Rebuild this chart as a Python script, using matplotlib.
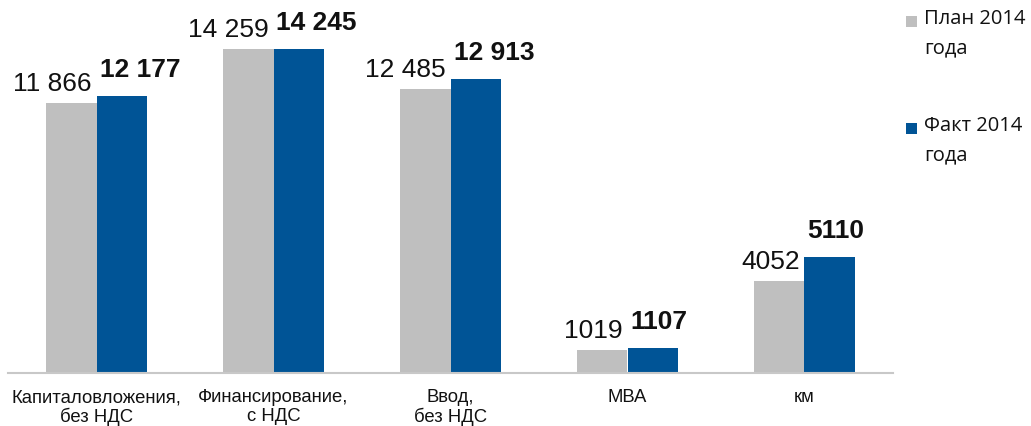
import matplotlib
matplotlib.use('Agg')
import matplotlib.pyplot as plt
from matplotlib.patches import Rectangle

# data
categories = ['Капиталовложения,\nбез НДС', 'Финансирование,\nс НДС', 'Ввод,\nбез НДС', 'МВА', 'км']
plan_vals = [11866, 14259, 12485, 1019, 4052]
fact_vals = [12177, 14245, 12913, 1107, 5110]
plan_labels = ['11 866', '14 259', '12 485', '1019', '4052']
fact_labels = ['12 177', '14 245', '12 913', '1107', '5110']
series_names = ['План 2014\nгода', 'Факт 2014\nгода']

GREY = '#bfbfbf'
BLUE = '#005496'

plt.rcParams['font.family'] = ['Liberation Sans', 'DejaVu Sans']

fig = plt.figure(figsize=(10.31, 4.27), dpi=100)
W, H = 1031.0, 427.0
ax = fig.add_axes([8 / W, 53 / H, 885 / W, 355 / H])

x = list(range(len(categories)))
w = 0.283
ax.bar([i - w / 2 for i in x], plan_vals, width=w, color=GREY, linewidth=0)
ax.bar([i + w / 2 for i in x], fact_vals, width=w, color=BLUE, linewidth=0)

ax.set_xlim(-0.5, len(categories) - 0.5)
ax.set_ylim(0, 15600)

# value labels: plan to the left, fact to the right/higher
for i in x:
    ax.annotate(plan_labels[i], xy=(i, plan_vals[i]), xytext=(-5, 8),
                textcoords='offset pixels', ha='right', va='bottom',
                fontsize=19, color='#111111')
    ax.annotate(fact_labels[i], xy=(i, fact_vals[i]), xytext=(3, 15),
                textcoords='offset pixels', ha='left', va='bottom',
                fontsize=19, fontweight='bold', color='#111111')

ax.set_xticks(x)
ax.set_xticklabels(categories, fontsize=13.3, linespacing=1.1, color='#111111')
ax.tick_params(axis='x', length=0, pad=11)
ax.set_yticks([])
for s in ['left', 'right', 'top']:
    ax.spines[s].set_visible(False)
ax.spines['bottom'].set_color('#c8c8c8')
ax.spines['bottom'].set_linewidth(1.5)

# legend drawn by hand so the square sits on the first line
leg_font = ['Open Sans', 'DejaVu Sans']
for name, col, ytop in zip(series_names, [GREY, BLUE], [17, 124]):
    fig.add_artist(Rectangle((906 / W, 1 - (ytop + 11) / H), 11 / W, 11 / H,
                             transform=fig.transFigure, color=col, lw=0))
    fig.text(924 / W, 1 - (ytop - 8) / H, name, ha='left', va='top',
             fontsize=14.5, family=leg_font, color='#111111', linespacing=1.6)

fig.savefig('out.png', dpi=100)
